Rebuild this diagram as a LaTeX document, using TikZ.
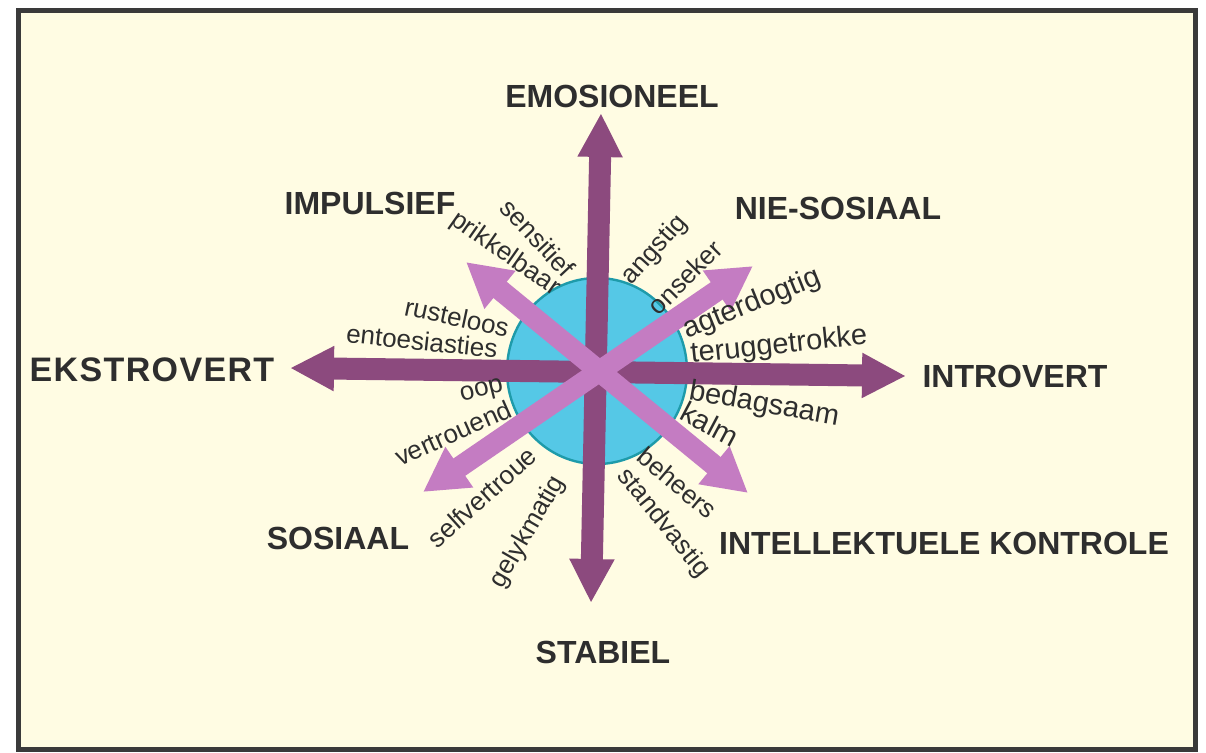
\documentclass[tikz,border=0pt]{standalone}
\usepackage{fontspec}
\setmainfont{Liberation Sans}
\usetikzlibrary{arrows.meta}
\definecolor{paper}{HTML}{FFFCE3}
\definecolor{framegray}{HTML}{3A3A3A}
\definecolor{inkgray}{HTML}{2E2E2E}
\definecolor{axisplum}{HTML}{8C4A7E}
\definecolor{diagplum}{HTML}{C47CC2}
\definecolor{discblue}{HTML}{55C8E6}
\definecolor{discrim}{HTML}{1E9BAA}

\begin{document}
\begin{tikzpicture}[x=0.5pt,y=-0.5pt,
  axis/.style={line width=11pt,draw=axisplum,>={Triangle[width=21pt,length=22pt]},<->},
  diag/.style={line width=10.5pt,draw=diagplum,>={Triangle[width=23pt,length=22pt]},<->},
  pole/.style={font=\fontsize{16}{18}\selectfont\bfseries,text=inkgray,inner sep=0pt},
  trait/.style={font=\fontsize{13}{15}\selectfont,text=inkgray,inner sep=0pt},
  traitwide/.style={trait,font=\fontsize{14.5}{17}\selectfont}]
  \useasboundingbox (0,0) rectangle (1206,752);
  \fill[white] (0,0) rectangle (1206,752);
  \draw[framegray,line width=2.5pt,fill=paper] (18,10.5) rectangle (1195.5,749.5);

  % disc behind the arrows
  \coordinate (c) at (597,371);
  \draw[discrim,line width=1.2pt,fill=discblue] (c) ellipse [x radius=90,y radius=93];

  % arrow ends
  \coordinate (up) at (601,113);
  \coordinate (dn) at (591,603);
  \coordinate (lt) at (290,368);
  \coordinate (rt) at (906,376);
  \coordinate (nw) at (466,262);
  \coordinate (se) at (748,493);
  \coordinate (ne) at (753,266);
  \coordinate (sw) at (423,492);
  \draw[axis] (dn) -- (up);
  \draw[axis] (lt) -- (rt);
  \draw[diag] (nw) -- (se);
  \draw[diag] (sw) -- (ne);

  % poles
  \node[pole] (emo) at (612,96) {EMOSIONEEL};
  \node[pole] (stab) at (603,652) {STABIEL};
  \node[pole,font=\fontsize{17}{19}\selectfont\bfseries\addfontfeature{LetterSpace=4}] (eks) at (152,370) {EKSTROVERT};
  \node[pole] (intro) at (1015,376) {INTROVERT};
  \node[pole] (imp) at (370,203) {IMPULSIEF};
  \node[pole] (nsos) at (838,208) {NIE-SOSIAAL};
  \node[pole] (sos) at (338,538) {SOSIAAL};
  \node[pole] (ikon) at (944,543) {INTELLEKTUELE KONTROLE};

  % traits
  \node[trait,rotate=-47] (sens) at (538,238) {sensitief};
  \node[trait,rotate=-35] (prik) at (505,254) {prikkelbaar};
  \node[trait,rotate=-12] (rust) at (457,317) {rusteloos};
  \node[trait,rotate=-6] (ento) at (422,341) {entoesiasties};
  \node[trait,rotate=14] (oop) at (482,392) {oop};
  \node[trait,rotate=24] (vert) at (453,433) {vertrouend};
  \node[trait,rotate=42] (self) at (482,497) {selfvertroue};
  \node[trait,rotate=60] (gely) at (528,532) {gelykmatig};
  \node[trait,rotate=-51] (stand) at (663,523) {standvastig};
  \node[trait,rotate=-40] (beh) at (677,483) {beheers};
  \node[traitwide,rotate=-28] (kalm) at (710,424) {kalm};
  \node[traitwide,rotate=-10] (beda) at (764,405) {bedagsaam};
  \node[traitwide,rotate=6] (teru) at (779,346) {teruggetrokke};
  \node[traitwide,rotate=22] (agte) at (752,304) {agterdogtig};
  \node[trait,rotate=45] (onse) at (685,277) {onseker};
  \node[trait,rotate=48] (angs) at (655,250) {angstig};
\end{tikzpicture}
\end{document}
